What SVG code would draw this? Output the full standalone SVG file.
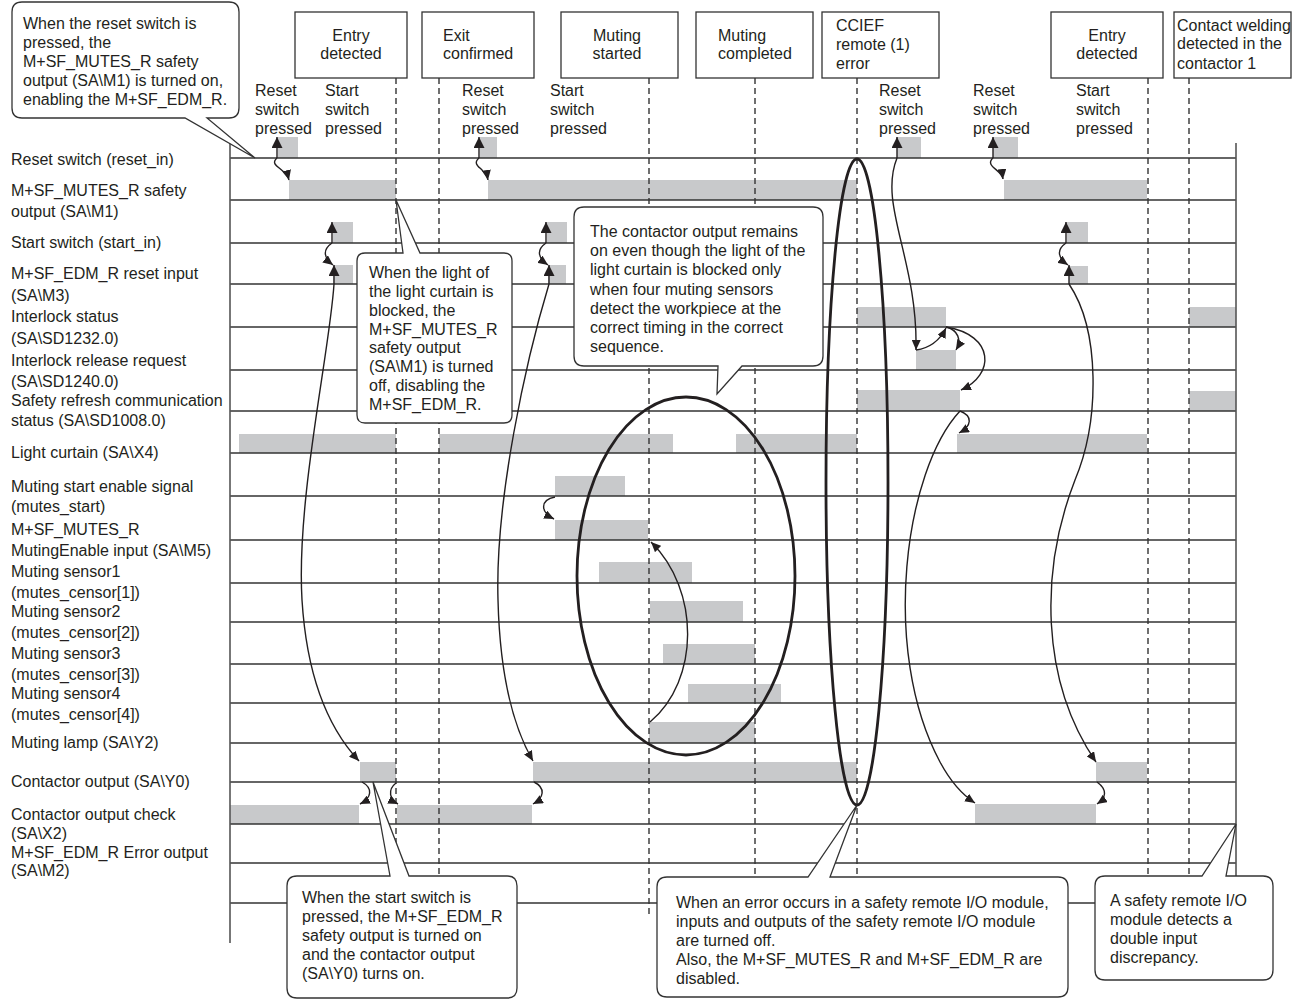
<svg xmlns="http://www.w3.org/2000/svg" width="1300" height="999" viewBox="0 0 1300 999">
<style>
.t{font-family:"Liberation Sans",Arial,sans-serif;font-size:16px;fill:#231f20}
.row{stroke:#333;stroke-width:1.3}
.sig{fill:#c8c9cb}
.dash{stroke:#333;stroke-width:1.4;stroke-dasharray:6 4;fill:none}
.box{fill:#fff;stroke:#333;stroke-width:1.3}
.arr{fill:none;stroke:#231f20;stroke-width:1.4}
.ell{fill:none;stroke:#231f20;stroke-width:2.8}
.bd{stroke:#555;stroke-width:1.6}
</style>
<defs>
<marker id="ah" markerUnits="userSpaceOnUse" markerWidth="12" markerHeight="11" refX="11" refY="5.5" orient="auto"><path d="M0,0 L11,5.5 L0,11 z" fill="#231f20"/></marker>
<marker id="as" markerUnits="userSpaceOnUse" markerWidth="11" markerHeight="9" refX="10" refY="4.5" orient="auto"><path d="M0,0 L10,4.5 L0,9 z" fill="#231f20"/></marker>
</defs>

<g id="labels" class="t">
<text x="11" y="165">Reset switch (reset_in)</text>
<text x="11" y="196">M+SF_MUTES_R safety</text>
<text x="11" y="217">output (SA\M1)</text>
<text x="11" y="248">Start switch (start_in)</text>
<text x="11" y="279">M+SF_EDM_R reset input</text>
<text x="11" y="301">(SA\M3)</text>
<text x="11" y="322">Interlock status</text>
<text x="11" y="344">(SA\SD1232.0)</text>
<text x="11" y="366">Interlock release request</text>
<text x="11" y="387">(SA\SD1240.0)</text>
<text x="11" y="406">Safety refresh communication</text>
<text x="11" y="426">status (SA\SD1008.0)</text>
<text x="11" y="458">Light curtain (SA\X4)</text>
<text x="11" y="492">Muting start enable signal</text>
<text x="11" y="512">(mutes_start)</text>
<text x="11" y="535">M+SF_MUTES_R</text>
<text x="11" y="556">MutingEnable input (SA\M5)</text>
<text x="11" y="577">Muting sensor1</text>
<text x="11" y="598">(mutes_censor[1])</text>
<text x="11" y="617">Muting sensor2</text>
<text x="11" y="638">(mutes_censor[2])</text>
<text x="11" y="659">Muting sensor3</text>
<text x="11" y="680">(mutes_censor[3])</text>
<text x="11" y="699">Muting sensor4</text>
<text x="11" y="720">(mutes_censor[4])</text>
<text x="11" y="748">Muting lamp (SA\Y2)</text>
<text x="11" y="787">Contactor output (SA\Y0)</text>
<text x="11" y="820">Contactor output check</text>
<text x="11" y="839">(SA\X2)</text>
<text x="11" y="858">M+SF_EDM_R Error output</text>
<text x="11" y="876">(SA\M2)</text>
</g>

<g id="signals">
<!-- reset switch -->
<rect class="sig" x="278" y="137" width="20" height="21"/>
<rect class="sig" x="480" y="137" width="17" height="21"/>
<rect class="sig" x="897" y="137" width="24" height="21"/>
<rect class="sig" x="993" y="137" width="25" height="21"/>
<!-- MUTES safety output -->
<rect class="sig" x="289" y="180" width="107" height="20"/>
<rect class="sig" x="488" y="180" width="369" height="20"/>
<rect class="sig" x="1004" y="180" width="143" height="20"/>
<!-- start switch -->
<rect class="sig" x="333" y="222" width="20" height="21"/>
<rect class="sig" x="547" y="222" width="20" height="21"/>
<rect class="sig" x="1067" y="222" width="21" height="21"/>
<!-- EDM reset input -->
<rect class="sig" x="333" y="265" width="20" height="19"/>
<rect class="sig" x="548" y="265" width="18" height="19"/>
<rect class="sig" x="1069" y="266" width="19" height="18"/>
<!-- interlock status -->
<rect class="sig" x="857" y="307" width="89" height="20"/>
<rect class="sig" x="1189" y="307" width="47" height="20"/>
<!-- interlock release request -->
<rect class="sig" x="916" y="350" width="40" height="20"/>
<!-- safety refresh -->
<rect class="sig" x="857" y="390" width="103" height="21"/>
<rect class="sig" x="1189" y="391" width="47" height="20"/>
<!-- light curtain -->
<rect class="sig" x="239" y="434" width="157" height="19"/>
<rect class="sig" x="439" y="434" width="234" height="19"/>
<rect class="sig" x="736" y="434" width="121" height="19"/>
<rect class="sig" x="957" y="434" width="190" height="19"/>
<!-- muting -->
<rect class="sig" x="555" y="476" width="70" height="20"/>
<rect class="sig" x="555" y="520" width="93" height="20"/>
<rect class="sig" x="599" y="562" width="93" height="21"/>
<rect class="sig" x="650" y="601" width="93" height="21"/>
<rect class="sig" x="663" y="644" width="92" height="20"/>
<rect class="sig" x="688" y="684" width="93" height="19"/>
<rect class="sig" x="649" y="722" width="106" height="21"/>
<!-- contactor output -->
<rect class="sig" x="360" y="762" width="36" height="20"/>
<rect class="sig" x="533" y="762" width="324" height="20"/>
<rect class="sig" x="1096" y="762" width="51" height="20"/>
<!-- contactor output check -->
<rect class="sig" x="230" y="805" width="129" height="19"/>
<rect class="sig" x="397" y="805" width="135" height="19"/>
<rect class="sig" x="975" y="804" width="121" height="20"/>
</g>

<g id="grid">
<line class="row" x1="230" y1="158" x2="1236" y2="158"/>
<line class="row" x1="230" y1="200" x2="1236" y2="200"/>
<line class="row" x1="230" y1="243" x2="1236" y2="243"/>
<line class="row" x1="230" y1="284" x2="1236" y2="284"/>
<line class="row" x1="230" y1="327" x2="1236" y2="327"/>
<line class="row" x1="230" y1="370" x2="1236" y2="370"/>
<line class="row" x1="230" y1="411" x2="1236" y2="411"/>
<line class="row" x1="230" y1="453" x2="1236" y2="453"/>
<line class="row" x1="230" y1="496" x2="1236" y2="496"/>
<line class="row" x1="230" y1="540" x2="1236" y2="540"/>
<line class="row" x1="230" y1="583" x2="1236" y2="583"/>
<line class="row" x1="230" y1="622" x2="1236" y2="622"/>
<line class="row" x1="230" y1="664" x2="1236" y2="664"/>
<line class="row" x1="230" y1="703" x2="1236" y2="703"/>
<line class="row" x1="230" y1="743" x2="1236" y2="743"/>
<line class="row" x1="230" y1="782" x2="1236" y2="782"/>
<line class="row" x1="230" y1="824" x2="1236" y2="824"/>
<line class="row" x1="230" y1="863" x2="1236" y2="863"/>
<line class="row" x1="230" y1="903" x2="1096" y2="903"/>
<line class="bd" x1="230" y1="143" x2="230" y2="943"/>
<line class="bd" x1="1236" y1="143" x2="1236" y2="876"/>
</g>

<g id="markers-dashed">
<line class="dash" x1="396" y1="78" x2="396" y2="876"/>
<line class="dash" x1="439" y1="78" x2="439" y2="876"/>
<line class="dash" x1="649" y1="78" x2="649" y2="915"/>
<line class="dash" x1="755" y1="78" x2="755" y2="876"/>
<line class="dash" x1="857" y1="78" x2="857" y2="876"/>
<line class="dash" x1="1148" y1="78" x2="1148" y2="876"/>
<line class="dash" x1="1189" y1="78" x2="1189" y2="876"/>
</g>

<g id="connectors">
<path class="arr" marker-end="url(#ah)" d="M277,158 V137"/>
<path class="arr" marker-end="url(#as)" d="M277,158 C268,166 286,168 289,180"/>
<path class="arr" marker-end="url(#ah)" d="M479,158 V137"/>
<path class="arr" marker-end="url(#as)" d="M479,158 C470,166 486,168 488,180"/>
<path class="arr" marker-end="url(#ah)" d="M332,243 V222"/>
<path class="arr" marker-end="url(#as)" d="M332,243 C322,250 324,258 333,265"/>
<path class="arr" marker-end="url(#ah)" d="M334,284 V265"/>
<path class="arr" marker-end="url(#as)" d="M334,284 C330,350 296,500 302,600 C307,680 330,730 359,761"/>
<path class="arr" marker-end="url(#ah)" d="M546,243 V222"/>
<path class="arr" marker-end="url(#as)" d="M546,243 C536,250 538,258 548,265"/>
<path class="arr" marker-end="url(#ah)" d="M549,284 V265"/>
<path class="arr" marker-end="url(#as)" d="M549,284 C526,360 495,500 498,600 C500,680 515,730 533,761"/>
<path class="arr" marker-end="url(#ah)" d="M897,158 V137"/>
<path class="arr" marker-end="url(#as)" d="M897,158 C878,205 918,260 916,350"/>
<path class="arr" marker-end="url(#as)" d="M916,350 C930,348 940,340 946,328"/>
<path class="arr" marker-end="url(#as)" d="M946,327 C958,330 962,340 956,350"/>
<path class="arr" marker-end="url(#as)" d="M946,327 C995,335 995,375 961,390"/>
<path class="arr" marker-end="url(#as)" d="M960,411 C973,416 972,426 959,433"/>
<path class="arr" marker-end="url(#as)" d="M960,411 C905,470 880,650 940,762 Q955,790 975,803"/>
<path class="arr" marker-end="url(#ah)" d="M993,158 V137"/>
<path class="arr" marker-end="url(#as)" d="M993,158 C984,166 1002,170 1003,179"/>
<path class="arr" marker-end="url(#ah)" d="M1066,243 V222"/>
<path class="arr" marker-end="url(#as)" d="M1066,243 C1056,250 1058,258 1068,265"/>
<path class="arr" marker-end="url(#ah)" d="M1069,284 V265"/>
<path class="arr" marker-end="url(#as)" d="M1069,284 C1100,330 1100,420 1075,480 C1040,570 1040,680 1096,762"/>
<path class="arr" marker-end="url(#as)" d="M555,497 C540,500 540,512 554,519"/>
<path class="arr" marker-end="url(#as)" d="M650,722 C700,680 700,590 651,542"/>
<path class="arr" marker-end="url(#as)" d="M362,782 C373,788 372,798 360,804"/>
<path class="arr" marker-end="url(#as)" d="M396,783 C387,790 390,800 398,804"/>
<path class="arr" marker-end="url(#as)" d="M534,782 C546,788 544,798 533,804"/>
<path class="arr" marker-end="url(#as)" d="M1097,782 C1108,790 1106,798 1097,804"/>
</g>

<g id="ellipses">
<ellipse class="ell" cx="686" cy="576" rx="109" ry="179"/>
<ellipse class="ell" cx="857" cy="482" rx="31" ry="323"/>
</g>

<g id="annotations" class="t">
<text x="255" y="96">Reset</text><text x="255" y="115">switch</text><text x="255" y="134">pressed</text>
<text x="325" y="96">Start</text><text x="325" y="115">switch</text><text x="325" y="134">pressed</text>
<text x="462" y="96">Reset</text><text x="462" y="115">switch</text><text x="462" y="134">pressed</text>
<text x="550" y="96">Start</text><text x="550" y="115">switch</text><text x="550" y="134">pressed</text>
<text x="879" y="96">Reset</text><text x="879" y="115">switch</text><text x="879" y="134">pressed</text>
<text x="973" y="96">Reset</text><text x="973" y="115">switch</text><text x="973" y="134">pressed</text>
<text x="1076" y="96">Start</text><text x="1076" y="115">switch</text><text x="1076" y="134">pressed</text>
</g>

<g id="ev-entry1"><rect class="box" x="295" y="12" width="112" height="66"/><text class="t" x="351" y="41" text-anchor="middle">Entry</text><text class="t" x="351" y="59" text-anchor="middle">detected</text></g>
<g id="ev-exit"><rect class="box" x="422" y="12" width="112" height="66"/><text class="t" x="443" y="41">Exit</text><text class="t" x="443" y="59">confirmed</text></g>
<g id="ev-mstart"><rect class="box" x="561" y="12" width="117" height="66"/><text class="t" x="617" y="41" text-anchor="middle">Muting</text><text class="t" x="617" y="59" text-anchor="middle">started</text></g>
<g id="ev-mcomp"><rect class="box" x="696" y="12" width="117" height="66"/><text class="t" x="718" y="41">Muting</text><text class="t" x="718" y="59">completed</text></g>
<g id="ev-cc"><rect class="box" x="822" y="12" width="117" height="66"/><text class="t" x="836" y="31">CCIEF</text><text class="t" x="836" y="50">remote (1)</text><text class="t" x="836" y="69">error</text></g>
<g id="ev-entry2"><rect class="box" x="1051" y="12" width="112" height="66"/><text class="t" x="1107" y="41" text-anchor="middle">Entry</text><text class="t" x="1107" y="59" text-anchor="middle">detected</text></g>
<g id="ev-weld"><rect class="box" x="1174" y="12" width="117" height="66"/><text class="t" x="1177" y="31">Contact welding</text><text class="t" x="1177" y="49">detected in the</text><text class="t" x="1177" y="69">contactor 1</text></g>

<g id="call-reset">
<path class="box" d="M22,2 H229 Q239,2 239,12 V108 Q239,118 229,118 H207 L255,158 L185,118 H22 Q12,118 12,108 V12 Q12,2 22,2 Z"/>
<text class="t" x="23" y="29">When the reset switch is</text>
<text class="t" x="23" y="48">pressed, the</text>
<text class="t" x="23" y="67">M+SF_MUTES_R safety</text>
<text class="t" x="23" y="86">output (SA\M1) is turned on,</text>
<text class="t" x="23" y="105">enabling the M+SF_EDM_R.</text>
</g>
<g id="call-light">
<path class="box" d="M365,253 H403 L396,200 L420,253 H504 Q512,253 512,261 V415 Q512,423 504,423 H365 Q357,423 357,415 V261 Q357,253 365,253 Z"/>
<text class="t" x="369" y="278">When the light of</text>
<text class="t" x="369" y="297">the light curtain is</text>
<text class="t" x="369" y="316">blocked, the</text>
<text class="t" x="369" y="335">M+SF_MUTES_R</text>
<text class="t" x="369" y="353">safety output</text>
<text class="t" x="369" y="372">(SA\M1) is turned</text>
<text class="t" x="369" y="391">off, disabling the</text>
<text class="t" x="369" y="410">M+SF_EDM_R.</text>
</g>
<g id="call-remains">
<path class="box" d="M584,207 H813 Q823,207 823,217 V356 Q823,366 813,366 H742 L717,394 L718,366 H584 Q574,366 574,356 V217 Q574,207 584,207 Z"/>
<text class="t" x="590" y="237">The contactor output remains</text>
<text class="t" x="590" y="256">on even though the light of the</text>
<text class="t" x="590" y="275">light curtain is blocked only</text>
<text class="t" x="590" y="295">when four muting sensors</text>
<text class="t" x="590" y="314">detect the workpiece at the</text>
<text class="t" x="590" y="333">correct timing in the correct</text>
<text class="t" x="590" y="352">sequence.</text>
</g>
<g id="call-start">
<path class="box" d="M297,876 H390 L373,782 L409,876 H507 Q517,876 517,886 V988 Q517,998 507,998 H297 Q287,998 287,988 V886 Q287,876 297,876 Z"/>
<text class="t" x="302" y="903">When the start switch is</text>
<text class="t" x="302" y="922">pressed, the M+SF_EDM_R</text>
<text class="t" x="302" y="941">safety output is turned on</text>
<text class="t" x="302" y="960">and the contactor output</text>
<text class="t" x="302" y="979">(SA\Y0) turns on.</text>
</g>
<g id="call-error">
<path class="box" d="M667,877 H808 L857,805 L830,877 H1058 Q1068,877 1068,887 V987 Q1068,997 1058,997 H667 Q657,997 657,987 V887 Q657,877 667,877 Z"/>
<text class="t" x="676" y="908">When an error occurs in a safety remote I/O module,</text>
<text class="t" x="676" y="927">inputs and outputs of the safety remote I/O module</text>
<text class="t" x="676" y="946">are turned off.</text>
<text class="t" x="676" y="965">Also, the M+SF_MUTES_R and M+SF_EDM_R are</text>
<text class="t" x="676" y="984">disabled.</text>
</g>
<g id="call-discrepancy">
<path class="box" d="M1105,876 H1202 L1236,824 L1226,876 H1263 Q1273,876 1273,886 V970 Q1273,980 1263,980 H1105 Q1095,980 1095,970 V886 Q1095,876 1105,876 Z"/>
<text class="t" x="1110" y="906">A safety remote I/O</text>
<text class="t" x="1110" y="925">module detects a</text>
<text class="t" x="1110" y="944">double input</text>
<text class="t" x="1110" y="963">discrepancy.</text>
</g>
</svg>
